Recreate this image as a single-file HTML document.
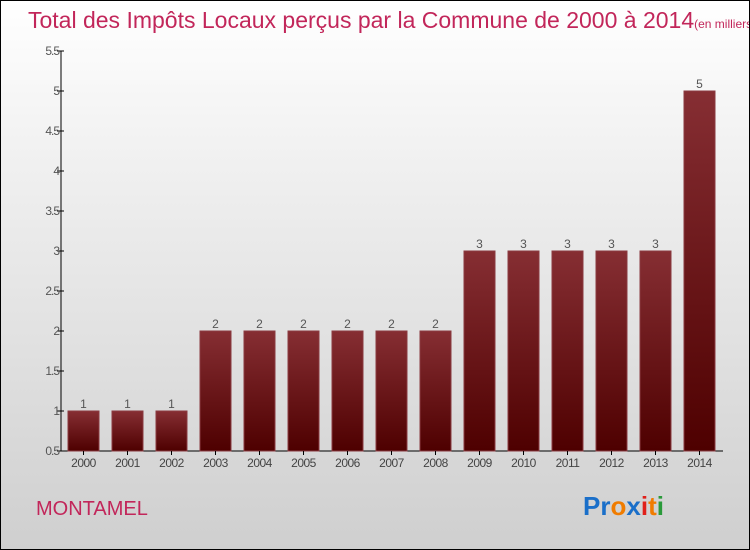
<!DOCTYPE html>
<html><head><meta charset="utf-8"><style>
body{margin:0}
#c{position:relative;width:748px;height:548px;border:1px solid #000;background:linear-gradient(#ffffff,#f0f0f0 30%,#cfcfcf);overflow:hidden;font-family:"Liberation Sans",sans-serif}
</style></head><body>
<div id="c">
<svg width="748" height="548">
<defs><linearGradient id="g" x1="0" y1="0" x2="0" y2="1"><stop offset="0" stop-color="#862e33"/><stop offset="1" stop-color="#4e0000"/></linearGradient></defs>
<text x="27" y="27" font-size="23" fill="#c2265a">Total des Impôts Locaux perçus par la Commune de 2000 à 2014<tspan font-size="12">(en milliers d'€)</tspan></text>
<g id="plot"></g>
<text x="35" y="514" font-size="20" fill="#c2265a">MONTAMEL</text>
<text x="582" y="514" font-size="26" font-weight="bold"><tspan fill="#1a6fc9">Pr</tspan><tspan fill="#f07c00">o</tspan><tspan fill="#1a6fc9">x</tspan><tspan fill="#e0201a">i</tspan><tspan fill="#f07c00">t</tspan><tspan fill="#2a9a3a">i</tspan></text>
</svg>
</div>
<script>
const years=["2000","2001","2002","2003","2004","2005","2006","2007","2008","2009","2010","2011","2012","2013","2014"];
const values=[1,1,1,2,2,2,2,2,2,3,3,3,3,3,5];
const ticks=[0.5,1,1.5,2,2.5,3,3.5,4,4.5,5,5.5];
const ns="http://www.w3.org/2000/svg";
const g=document.getElementById("plot");
const y=v=>450-(v-0.5)*80;
const x=i=>82.5+i*44;
function mk(t,a,txt){const e=document.createElementNS(ns,t);for(const k in a)e.setAttribute(k,a[k]);if(txt!=null)e.textContent=txt;g.appendChild(e);return e;}
let ax=mk("line",{x1:60,y1:50,x2:60,y2:450,stroke:"#000"});


let bx=mk("line",{x1:60,y1:450,x2:722,y2:450,stroke:"#000"});


ticks.forEach(t=>{
 const tk=mk("line",{x1:56,y1:y(t),x2:63,y2:y(t),stroke:"#000"});
 
 
 const l=mk("text",{x:58,y:y(t)+4,"font-size":12,fill:"#555","text-anchor":"end","letter-spacing":"-1"},String(t));
 
 
});
values.forEach((v,i)=>{
 const r=mk("rect",{x:x(i)-15.5,y:y(v),width:31,height:450-y(v),fill:"url(#g)",stroke:"#8a3a40","stroke-width":1});
 
 
 const vl=mk("text",{x:x(i),y:y(v)-3,"font-size":12,fill:"#555","text-anchor":"middle"},String(v));
 
 
 const tk=mk("line",{x1:x(i),y1:450,x2:x(i),y2:454,stroke:"#000"});
 
 
 const xl=mk("text",{x:x(i),y:466,"font-size":12,fill:"#444","text-anchor":"middle","letter-spacing":"-0.5"},years[i]);
 
 
});
</script>
</body></html>
